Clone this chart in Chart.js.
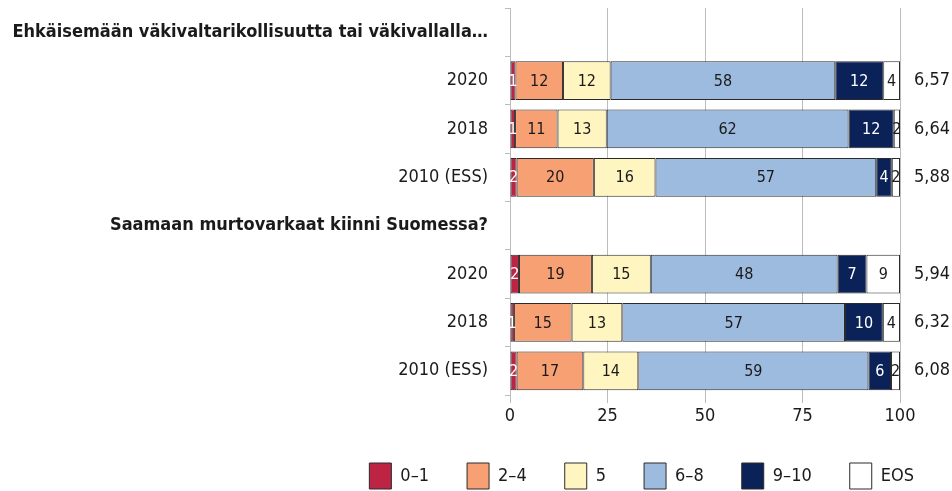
<!DOCTYPE html>
<html>
<head>
<meta charset="utf-8">
<script src="https://cdn.jsdelivr.net/npm/chart.js@4/dist/chart.umd.min.js"></script>
<style>
  body { margin: 0; background: #fff; }
  #wrap { width: 952px; height: 491px; }
</style>
</head>
<body>
<div id="wrap"><canvas id="chart"></canvas></div>
<script>
const FONT = "'DejaVu Sans Condensed', 'DejaVu Sans', sans-serif";

// Data
const categories = [
  'Ehkäisemään väkivaltarikollisuutta tai väkivallalla…',
  '2020', '2018', '2010 (ESS)',
  'Saamaan murtovarkaat kiinni Suomessa?',
  '2020', '2018', '2010 (ESS)'
];
const headerRows = [0, 4];
const seriesNames = ['0–1', '2–4', '5', '6–8', '9–10', 'EOS'];
const s01  = [null, 1.4, 1.3, 1.7, null, 2.3, 1.0, 1.7];
const s24  = [null, 12.2, 10.9, 19.8, null, 18.7, 14.8, 17.1];
const s5   = [null, 12.2, 12.6, 15.8, null, 15.1, 13.0, 14.1];
const s68  = [null, 57.6, 62.0, 56.6, null, 47.9, 57.1, 59.0];
const s910 = [null, 12.3, 11.6, 4.0, null, 7.4, 9.7, 5.8];
const sEos = [null, 4.3, 1.6, 2.1, null, 8.6, 4.4, 2.3];
const means = [null, 6.57, 6.64, 5.88, null, 5.94, 6.32, 6.08];
const xTicks = [0, 25, 50, 75, 100];

const colors = ['#bd2443', '#f6a074', '#fff5c0', '#9dbadf', '#0b2259', '#ffffff'];
const whiteText = [0, 4];

const meanLabels = means.map(v => v == null ? '' : v.toFixed(2).replace('.', ','));

const datasets = [s01, s24, s5, s68, s910, sEos].map((d, i) => ({
  label: seriesNames[i],
  data: d,
  backgroundColor: colors[i],
  borderColor: '#2a2a2a',
  borderWidth: 1,
  borderSkipped: false,
  barPercentage: 0.8,
  categoryPercentage: 1
}));

// numbers inside the segments
const segmentLabels = {
  id: 'segmentLabels',
  afterDatasetsDraw(chart) {
    const ctx = chart.ctx;
    ctx.save();
    ctx.font = '16px ' + FONT;
    ctx.textAlign = 'center';
    ctx.textBaseline = 'middle';
    chart.data.datasets.forEach((ds, i) => {
      const meta = chart.getDatasetMeta(i);
      meta.data.forEach((bar, j) => {
        const v = ds.data[j];
        if (v == null) return;
        ctx.fillStyle = whiteText.includes(i) ? '#ffffff' : '#1a1a1a';
        ctx.fillText(Math.round(v), (bar.x + bar.base) / 2, bar.y + 1);
      });
    });
    ctx.restore();
  }
};

// y axes: fixed width, no extra label padding above/below the plot
const noPad = s => { s.paddingTop = 0; s.paddingBottom = 0; };

new Chart(document.getElementById('chart'), {
  type: 'bar',
  data: { labels: categories, datasets: datasets },
  plugins: [segmentLabels],
  options: {
    indexAxis: 'y',
    responsive: true,
    maintainAspectRatio: false,
    animation: false,
    layout: { padding: { top: 8, bottom: -8, left: 0, right: 0 } },
    scales: {
      x: {
        stacked: true,
        min: 0,
        max: 100,
        afterBuildTicks: s => { s.ticks = xTicks.map(v => ({ value: v })); },
        afterFit: s => { s.height = 30; },
        grid: { color: '#bcbcbc', tickLength: 8 },
        border: { display: false },
        ticks: { color: '#1a1a1a', padding: 3, font: { family: FONT, size: 18 } }
      },
      y: {
        stacked: true,
        afterFit: s => { s.width = 510; noPad(s); },
        grid: { offset: true, drawOnChartArea: false, tickLength: 5, color: '#bcbcbc' },
        border: { color: '#bcbcbc' },
        ticks: {
          color: '#1a1a1a',
          padding: 17,
          autoSkip: false,
          font: c => ({ family: FONT, size: 18, weight: headerRows.includes(c.index) ? 'bold' : 'normal' })
        }
      },
      y2: {
        type: 'category',
        position: 'right',
        labels: meanLabels,
        offset: true,
        afterFit: s => { s.width = 52; noPad(s); },
        grid: { display: false },
        border: { display: false },
        ticks: { color: '#1a1a1a', padding: 6, autoSkip: false, font: { family: FONT, size: 18 } }
      }
    },
    plugins: {
      tooltip: { enabled: false },
      legend: {
        position: 'bottom',
        align: 'end',
        labels: {
          boxWidth: 22,
          boxHeight: 26,
          padding: 38,
          color: '#1a1a1a',
          font: { family: FONT, size: 18 }
        }
      }
    }
  }
});
</script>
</body>
</html>
